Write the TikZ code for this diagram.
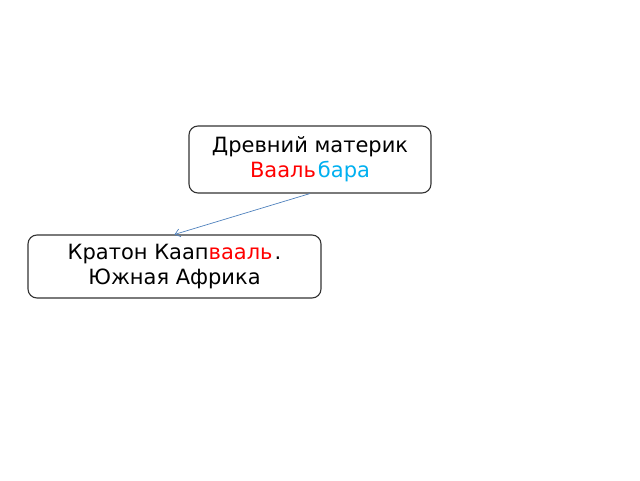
\documentclass[tikz,border=0pt]{standalone}
\usepackage{fontspec}
\setmainfont{DejaVu Sans}
\usetikzlibrary{arrows.meta}
\definecolor{vred}{RGB}{255,0,0}
\definecolor{vblue}{RGB}{0,176,240}
\definecolor{linkblue}{RGB}{79,129,189}
\begin{document}
\begin{tikzpicture}[x=1pt,y=-1pt,
  box/.style={draw=black!80,line width=1.1pt,rounded corners=9pt,fill=white,align=center,
    font=\fontsize{21}{26}\selectfont,inner sep=0pt},
  link/.style={draw=linkblue,line width=0.7pt,-{Straight Barb[length=5pt,width=8pt]}}]
\useasboundingbox (0,0) rectangle (640,480);
\node[box,minimum width=242pt,minimum height=67pt] (a) at (310,159.5)
  {Древний материк\\[-1pt]\textcolor{vred}{Вааль}\hspace{2pt}\textcolor{vblue}{бара}};
\node[box,minimum width=293pt,minimum height=63pt] (b) at (174.5,266.5)
  {Кратон Каап\textcolor{vred}{вааль}\hspace{2pt}.\\[-1pt]Южная Африка};
\draw[link] (a.south) -- (b.north);
\end{tikzpicture}
\end{document}
